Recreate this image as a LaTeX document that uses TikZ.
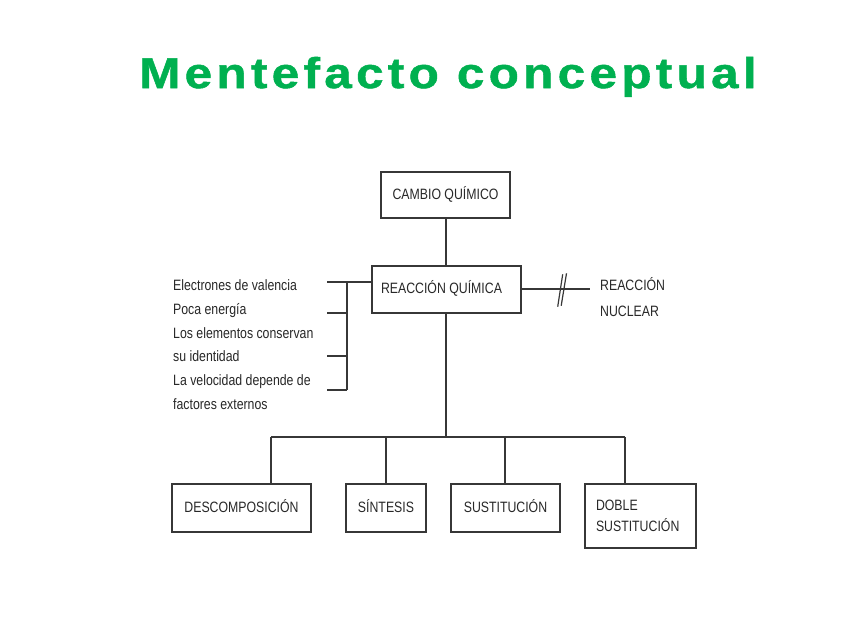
\documentclass[tikz,border=0pt]{standalone}
\usepackage{fontspec}
\newfontfamily\nf[FakeStretch=0.82]{Liberation Sans}
\newfontfamily\tf[LetterSpace=10,FakeStretch=1.15,FakeBold=1.2]{Liberation Sans Bold}
\definecolor{titlegreen}{RGB}{0,176,80}
\definecolor{linec}{RGB}{55,55,55}
\definecolor{textc}{RGB}{40,40,40}
\tikzset{
  box/.style={draw=linec, line width=1.3pt, rectangle, inner sep=0pt,
    font=\nf\fontsize{15}{18}\selectfont, text=textc, text height=11pt, text depth=3pt},
  conn/.style={draw=linec, line width=1.2pt},
  lbl/.style={font=\nf\fontsize{15}{18}\selectfont, text=textc, inner sep=0pt, anchor=base west}
}
\begin{document}
\begin{tikzpicture}[x=1pt,y=-1pt]
\useasboundingbox[fill=white] (0,0) rectangle (853,638);
% title
\node[anchor=base west, inner sep=0pt, text=titlegreen, font=\tf\fontsize{43}{50}\selectfont] (title) at (139,88) {Mentefacto conceptual};
% boxes
\node[box, minimum width=129pt, minimum height=46pt] (cambio) at (445.5,195) {CAMBIO QUÍMICO};
\node[box, minimum width=149pt, minimum height=47pt] (reac) at (446.5,289.5) {REACCIÓN QUÍMICA\hspace*{10pt}};
\node[box, minimum width=139pt, minimum height=48pt] (desc) at (241.5,508) {DESCOMPOSICIÓN};
\node[box, minimum width=80pt, minimum height=48pt] (sint) at (386,508) {SÍNTESIS};
\node[box, minimum width=109pt, minimum height=48pt] (sust) at (505.5,508) {SUSTITUCIÓN};
\node[draw=linec, line width=1.3pt, rectangle, minimum width=111pt, minimum height=64pt,
  inner xsep=11pt, text width=89pt, align=left, text=textc,
  font=\nf\fontsize{15}{21}\selectfont] (doble) at (640.5,516) {DOBLE\\SUSTITUCIÓN};
% right label
\node[lbl] (nuc1) at (600,290.5) {REACCIÓN};
\node[lbl] (nuc2) at (600,316) {NUCLEAR};
% left list
\node[lbl] (l1) at (173,290.5) {Electrones de valencia};
\node[lbl] (l2) at (173,314.3) {Poca energía};
\node[lbl] (l3) at (173,338.1) {Los elementos conservan};
\node[lbl] (l4) at (173,361.9) {su identidad};
\node[lbl] (l5) at (173,385.7) {La velocidad depende de};
\node[lbl] (l6) at (173,409.5) {factores externos};
% coordinates
\coordinate (lt) at (327,282);
\coordinate (bt) at (347,282);
\coordinate (bb) at (347,390);
\coordinate (t2) at (327,313);
\coordinate (t3) at (327,356);
\coordinate (t4) at (327,390);
\coordinate (rn) at (590,289);
\coordinate (s1a) at (557.7,306.7);
\coordinate (s1b) at (562.7,274.3);
\coordinate (s2a) at (561.2,305.7);
\coordinate (s2b) at (566.5,273.3);
\coordinate (hub) at (446,437);
\coordinate (b1) at (271,437);
\coordinate (b2) at (386,437);
\coordinate (b3) at (505,437);
\coordinate (b4) at (625,437);
% connectors
\draw[conn] (cambio.south -| 446,0) -- (reac.north -| 446,0);
\draw[conn] (reac.west |- lt) -- (lt);
\draw[conn] (bt) -- (bb);
\draw[conn] (t2) -- (t2 -| bt);
\draw[conn] (t3) -- (t3 -| bt);
\draw[conn] (t4) -- (bb);
\draw[conn] (reac.east |- rn) -- (rn);
\draw[conn] (s1a) -- (s1b);
\draw[conn] (s2a) -- (s2b);
\draw[conn] (reac.south -| hub) -- (hub);
\draw[conn] (b1) -- (b4);
\draw[conn] (b1) -- (b1 |- desc.north);
\draw[conn] (b2) -- (b2 |- sint.north);
\draw[conn] (b3) -- (b3 |- sust.north);
\draw[conn] (b4) -- (b4 |- doble.north);
\end{tikzpicture}
\end{document}
